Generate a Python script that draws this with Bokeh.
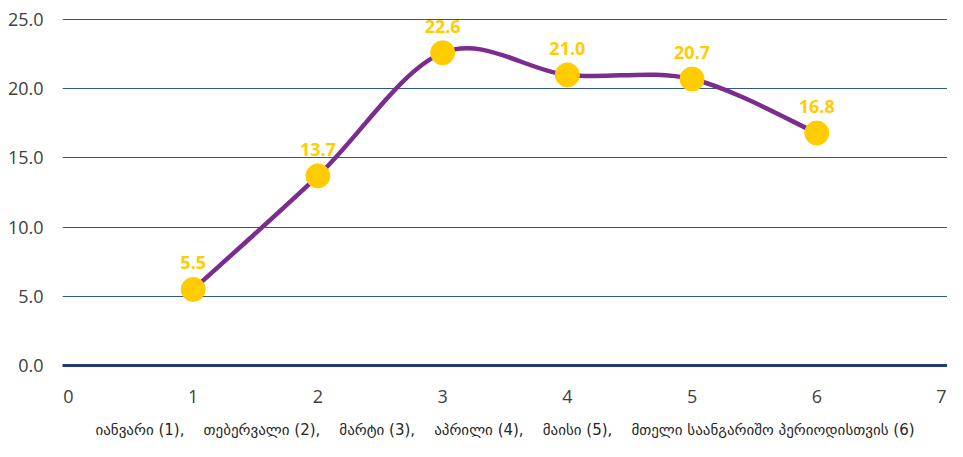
from bokeh.plotting import figure
from bokeh.models import ColumnDataSource, LabelSet, Range1d, FixedTicker, CustomJSTickFormatter
from bokeh.core.properties import value
from bokeh.embed import file_html
from bokeh.resources import INLINE

# ---- data ----
months = [1, 2, 3, 4, 5, 6]
values = [5.5, 13.7, 22.6, 21.0, 20.7, 16.8]
x_ticks = [0, 1, 2, 3, 4, 5, 6, 7]
y_ticks = [0, 5, 10, 15, 20, 25]
caption_parts = ["იანვარი (1),", "თებერვალი (2),", "მარტი (3),", "აპრილი (4),",
                 "მაისი (5),", "მთელი საანგარიშო პერიოდისთვის (6)"]
caption = "\u00a0\u00a0\u00a0\u00a0".join(caption_parts)

LINE = "#7B2D8E"
YEL = "#FFCC00"
GRID = "#2F5597"
TXT = "#404040"

p = figure(width=947, height=441, output_backend="svg", toolbar_location=None,
           x_range=Range1d(-0.048, 7.048), y_range=Range1d(0, 25.22),
           min_border_left=62, min_border_right=0, min_border_top=16, min_border_bottom=76)
p.outline_line_color = None
p.background_fill_color = "white"

# smooth curve: Catmull-Rom style cubic Bezier segments between the data points
n = len(months)
x0s, y0s, x1s, y1s, cx0, cy0, cx1, cy1 = [], [], [], [], [], [], [], []
for i in range(n - 1):
    xa, ya = months[i], values[i]
    xb, yb = months[i + 1], values[i + 1]
    xp, yp = (months[i - 1], values[i - 1]) if i > 0 else (xa, ya)
    xn, yn = (months[i + 2], values[i + 2]) if i + 2 < n else (xb, yb)
    x0s.append(xa); y0s.append(ya); x1s.append(xb); y1s.append(yb)
    cx0.append(xa + (xb - xp) / 6); cy0.append(ya + (yb - yp) / 6)
    cx1.append(xb - (xn - xa) / 6); cy1.append(yb - (yn - ya) / 6)
p.bezier(x0=x0s, y0=y0s, x1=x1s, y1=y1s, cx0=cx0, cy0=cy0, cx1=cx1, cy1=cy1,
         line_color=LINE, line_width=4.5)

src = ColumnDataSource(dict(x=months, y=values, t=[f"{v:.1f}" for v in values]))
p.scatter("x", "y", source=src, size=24, fill_color=YEL, line_color=YEL)
labels = LabelSet(x="x", y="y", text="t", source=src, y_offset=20, text_align="center",
                  text_baseline="alphabetic", text_color=YEL, text_font_size="18px",
                  text_font_style="bold", text_font=value("Open Sans"))
p.add_layout(labels)

# axes
p.xaxis.ticker = FixedTicker(ticks=x_ticks)
p.yaxis.ticker = FixedTicker(ticks=y_ticks)
p.yaxis.formatter = CustomJSTickFormatter(code="return tick.toFixed(1);")
for ax in (p.xaxis, p.yaxis):
    ax.major_tick_line_color = None
    ax.minor_tick_line_color = None
    ax.major_tick_out = 0
    ax.major_tick_in = 0
    ax.major_label_text_font = "Open Sans"
    ax.major_label_text_font_size = "18px"
    ax.major_label_text_color = TXT
p.yaxis.axis_line_color = None
p.yaxis.major_label_standoff = 19
p.xaxis.axis_line_color = "#1F3C74"
p.xaxis.axis_line_width = 3
p.xaxis.major_label_standoff = 24
p.xaxis.axis_label = caption
p.xaxis.axis_label_text_font = "DejaVu Sans"
p.xaxis.axis_label_text_font_style = "normal"
p.xaxis.axis_label_text_font_size = "15px"
p.xaxis.axis_label_text_color = "#262626"
p.xaxis.axis_label_standoff = 15

p.xgrid.grid_line_color = None
p.ygrid.grid_line_color = GRID
p.ygrid.grid_line_width = 1

open("out.html", "w").write(file_html(p, INLINE))
